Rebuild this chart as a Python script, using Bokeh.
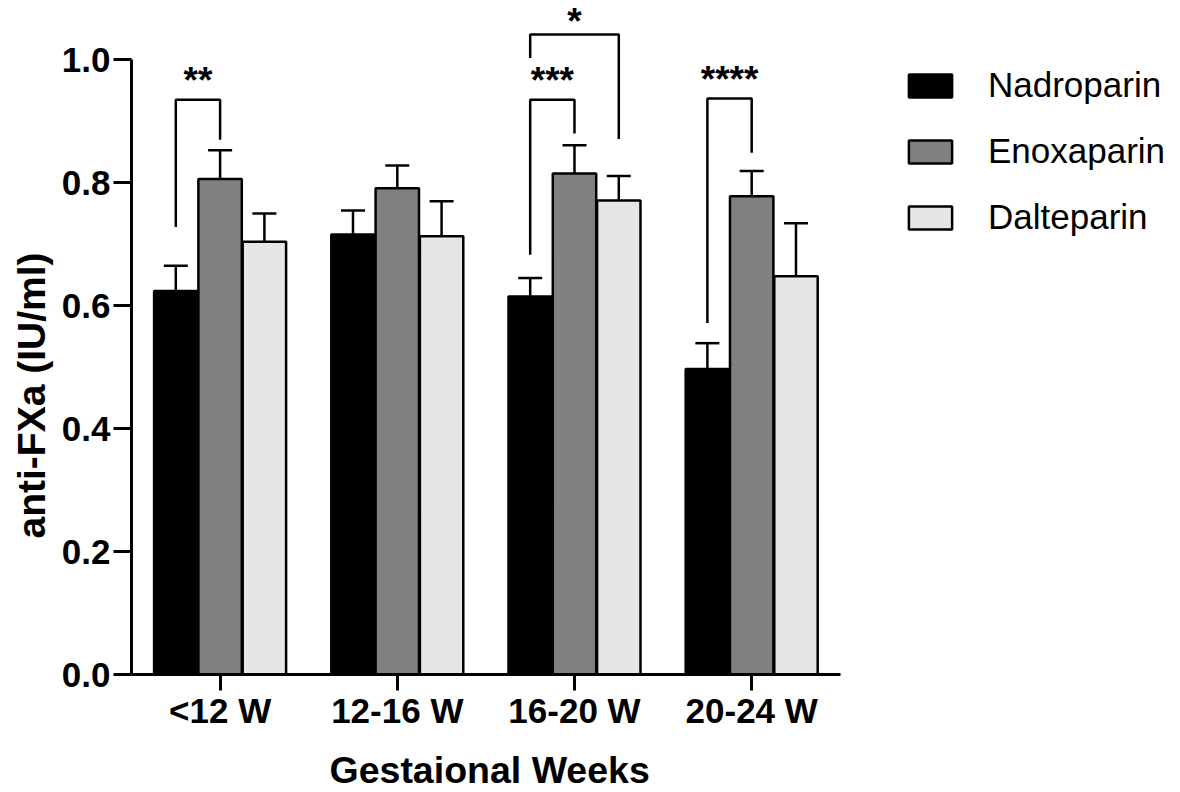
import math
from bokeh.plotting import figure
from bokeh.models import (ColumnDataSource, Range1d, FixedTicker, Whisker, TeeHead,
                          Legend, LegendItem, Title, NumeralTickFormatter)
from bokeh.embed import file_html
from bokeh.resources import INLINE
from bokeh.core.properties import value

# ---------------- data ----------------
groups = ["<12 W", "12-16 W", "16-20 W", "20-24 W"]
series = ["Nadroparin", "Enoxaparin", "Dalteparin"]
colors = ["#000000", "#808080", "#e6e6e6"]

nadroparin = [0.624, 0.716, 0.615, 0.497]
nadroparin_err = [0.041, 0.039, 0.030, 0.042]
enoxaparin = [0.806, 0.791, 0.815, 0.778]
enoxaparin_err = [0.047, 0.037, 0.046, 0.041]
dalteparin = [0.704, 0.713, 0.771, 0.648]
dalteparin_err = [0.046, 0.057, 0.040, 0.086]

y_ticks = [0.0, 0.2, 0.4, 0.6, 0.8, 1.0]

# significance brackets (group index, from-series, to-series, levels, label)
bracket_group = [0, 2, 2, 3]
bracket_from = [0, 0, 0, 0]
bracket_to = [1, 1, 2, 1]
bracket_top = [0.935, 0.935, 1.041, 0.937]
bracket_left_end = [0.728, 0.683, 1.003, 0.572]
bracket_right_end = [0.870, 0.880, 0.871, 0.849]
bracket_label = ["**", "***", "*", "****"]

# ---------------- layout constants ----------------
FONT = "Liberation Sans"
FRAME_W, FRAME_H = 1049, 674
X0, X1 = 0.5, 6.42
Y0, Y1 = 0.0, 1.0965
PX_PER_Y = FRAME_H / (Y1 - Y0)
offsets = [-0.25, 0.0, 0.25]
bar_w = 0.245

p = figure(frame_width=FRAME_W, frame_height=FRAME_H,
           x_range=Range1d(X0, X1), y_range=Range1d(Y0, Y1),
           output_backend="svg", toolbar_location=None,
           min_border_left=131, min_border_right=0, min_border_top=0, min_border_bottom=118)
p.grid.visible = False
p.outline_line_color = None
p.background_fill_color = "white"
p.border_fill_color = "white"

all_vals = [nadroparin, enoxaparin, dalteparin]
all_errs = [nadroparin_err, enoxaparin_err, dalteparin_err]

items = []
for i, (name, vals, errs, col) in enumerate(zip(series, all_vals, all_errs, colors)):
    xs = [g + 1 + offsets[i] for g in range(len(groups))]
    src = ColumnDataSource(dict(x=xs, top=vals,
                                upper=[v + e for v, e in zip(vals, errs)],
                                lower=vals))
    r = p.vbar(x="x", top="top", bottom=0, width=bar_w, source=src,
               fill_color=col, line_color="black", line_width=2.5)
    w = Whisker(source=src, base="x", upper="upper", lower="lower",
                line_color="black", line_width=2.5,
                upper_head=TeeHead(size=24, line_color="black", line_width=2.5),
                lower_head=None, level="overlay")
    p.add_layout(w)
    items.append(LegendItem(label=name, renderers=[r]))

# brackets
bxs, bys, tx, ty = [], [], [], []
for g, a, b, top, le, re_ in zip(bracket_group, bracket_from, bracket_to,
                                  bracket_top, bracket_left_end, bracket_right_end):
    xl = g + 1 + offsets[a]
    xr = g + 1 + offsets[b]
    bxs.append([xl, xl, xr, xr])
    bys.append([le, top, top, re_])
    tx.append((xl + xr) / 2)
    ty.append(min(top + 40 / PX_PER_Y, Y1))
p.multi_line(xs=bxs, ys=bys, line_color="black", line_width=2.5)
p.text(x=tx, y=ty, text=bracket_label, text_font=value(FONT), text_font_style="bold",
       text_font_size="37px", text_align="center", text_baseline="top",
       text_color="black")

# axes
xa = p.xaxis[0]
xa.ticker = FixedTicker(ticks=[1, 2, 3, 4])
xa.major_label_overrides = {i + 1: g for i, g in enumerate(groups)}
xa.bounds = (0.5, 4.5)
xa.axis_line_width = 3
xa.major_tick_line_width = 3
xa.major_tick_out = 16
xa.major_tick_in = 0
xa.minor_tick_line_color = None
xa.major_label_standoff = 0
xa.major_label_text_font = FONT
xa.major_label_text_font_style = "bold"
xa.major_label_text_font_size = "35px"
xa.major_label_text_color = "black"

ya = p.yaxis[0]
ya.ticker = FixedTicker(ticks=y_ticks)
ya.formatter = NumeralTickFormatter(format="0.0")
ya.bounds = (0, 1.0)
ya.axis_line_width = 3
ya.major_tick_line_width = 3
ya.major_tick_out = 18
ya.major_tick_in = 0
ya.minor_tick_line_color = None
ya.major_label_standoff = 3
ya.major_label_text_font = FONT
ya.major_label_text_font_style = "bold"
ya.major_label_text_font_size = "35px"
ya.major_label_text_color = "black"

ytitle = Title(text="anti-FXa (IU/ml)", align="left", offset=136,
               text_font=FONT, text_font_style="bold", text_font_size="39px",
               text_color="black", standoff=12)
p.add_layout(ytitle, "left")

xtitle = Title(text="Gestaional Weeks", align="left", offset=198,
               text_font=FONT, text_font_style="bold", text_font_size="37.5px",
               text_color="black", standoff=28)
p.add_layout(xtitle, "below")

legend = Legend(items=items, location=(772, 437), orientation="vertical",
                padding=0, margin=0, border_line_color=None,
                background_fill_alpha=0, glyph_width=54, glyph_height=29,
                label_height=40, spacing=26, label_standoff=31,
                label_text_font=FONT, label_text_font_size="35px",
                label_text_color="black")
p.add_layout(legend)

open("out.html", "w").write(file_html(p, INLINE))
